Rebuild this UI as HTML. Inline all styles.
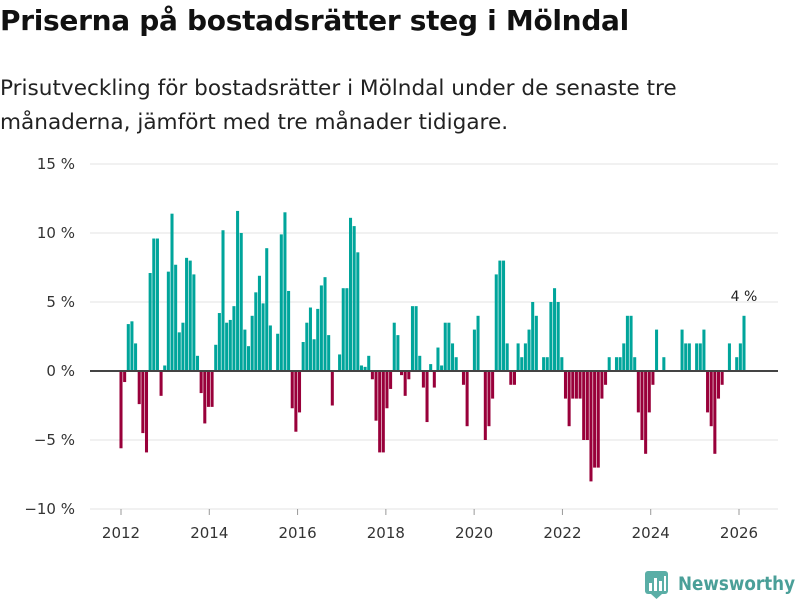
<!DOCTYPE html>
<html><head><meta charset="utf-8"><style>
body{margin:0;width:800px;height:600px;background:#fff;font-family:"Liberation Sans","DejaVu Sans",sans-serif;overflow:hidden;position:relative}
h1{position:absolute;left:0;top:4px;margin:0;font-size:28px;font-weight:bold;color:#111;font-family:"DejaVu Sans","Liberation Sans",sans-serif;letter-spacing:-0.3px}
p{position:absolute;left:0;top:72px;margin:0;font-size:21.6px;line-height:34px;color:#222;font-family:"DejaVu Sans","Liberation Sans",sans-serif;width:730px}
svg{position:absolute;left:0;top:0}
</style></head><body>
<h1>Priserna på bostadsrätter steg i Mölndal</h1>
<p>Prisutveckling för bostadsrätter i Mölndal under de senaste tre månaderna, jämfört med tre månader tidigare.</p>
<svg id="chart" width="800" height="600"></svg>
<script>
const startYear = 2012;
const values = [-5.6,-0.8,3.4,3.6,2.0,-2.4,-4.5,-5.9,7.1,9.6,9.6,-1.8,0.4,7.2,11.4,7.7,2.8,3.5,8.2,8.0,7.0,1.1,-1.6,-3.8,-2.6,-2.6,1.9,4.2,10.2,
3.5,3.7,4.7,11.6,10.0,3.0,1.8,4.0,5.7,6.9,4.9,8.9,3.3,0,2.7,9.9,11.5,5.8,-2.7,-4.4,-3.0,2.1,3.5,4.6,2.3,4.5,6.2,6.8,2.6,-2.5,
0,1.2,6.0,6.0,11.1,10.5,8.6,0.4,0.3,1.1,-0.6,-3.6,-5.9,-5.9,-2.7,-1.3,3.5,2.6,-0.3,-1.8,-0.6,4.7,4.7,1.1,-1.2,-3.7,0.5,-1.2,1.7,0.4,
3.5,3.5,2.0,1.0,0,-1.0,-4.0,0,3.0,4.0,0,-5.0,-4.0,-2.0,7.0,8.0,8.0,2.0,-1.0,-1.0,2.0,1.0,2.0,3.0,5.0,4.0,0,1.0,1.0,
5.0,6.0,5.0,1.0,-2.0,-4.0,-2.0,-2.0,-2.0,-5.0,-5.0,-8.0,-7.0,-7.0,-2.0,-1.0,1.0,0,1.0,1.0,2.0,4.0,4.0,1.0,-3.0,-5.0,-6.0,-3.0,-1.0,3.0,
0,1.0,0,0,0,0,3.0,2.0,2.0,0,2.0,2.0,3.0,-3.0,-4.0,-6.0,-2.0,-1.0,0,2.0,0,1.0,2.0,4.0];
const yTicks = [15,10,5,0,-5,-10];
const yTickLabels = ["15 %","10 %","5 %","0 %","−5 %","−10 %"];
const xTicks = [2012,2014,2016,2018,2020,2022,2024,2026];
const lastLabel = "4 %";

const NS="http://www.w3.org/2000/svg";
const svg=document.getElementById('chart');
const y=v=>371-v*13.8;
const xIdx=i=>121+i*((744-121)/(values.length-1));
const xYear=yr=>121+(yr-startYear)*(618/14);
function mk(tag,attrs){const e=document.createElementNS(NS,tag);for(const k in attrs)e.setAttribute(k,attrs[k]);svg.appendChild(e);return e;}
yTicks.forEach((t,k)=>{
  if(t!==0){const g=mk('line',{x1:90,x2:778,y1:y(t),y2:y(t),stroke:'#e3e3e3','stroke-width':1});
  
  }
  const tx=mk('text',{x:75,y:y(t)+5,'text-anchor':'end','font-size':15,fill:'#333','font-family':'DejaVu Sans, Liberation Sans, sans-serif'});
  tx.textContent=yTickLabels[k];
  
  
});
const bw=(744-121)/(values.length-1);
values.forEach((v,i)=>{
  if(v===0)return;
  const cx=xIdx(i);
  const r=mk('rect',{x:cx-bw/2+0.3,width:bw-0.6,y:Math.min(y(v),y(0)),height:Math.abs(y(v)-y(0)),fill:v>0?'#00a59b':'#99003a'});
  
  
});
const z=mk('line',{x1:90,x2:778,y1:y(0),y2:y(0),stroke:'#444','stroke-width':2});


xTicks.forEach(yr=>{
  const cx=xYear(yr);
  const tk=mk('line',{x1:cx,x2:cx,y1:509,y2:515,stroke:'#999','stroke-width':1});
  
  
  const t=mk('text',{x:cx,y:538,'text-anchor':'middle','font-size':15,fill:'#333','font-family':'DejaVu Sans, Liberation Sans, sans-serif'});
  t.textContent=yr;
  
  
});
const li=values.length-1;
const lt=mk('text',{x:xIdx(li),y:y(values[li])-15,'text-anchor':'middle','font-size':14,fill:'#222','font-family':'DejaVu Sans, Liberation Sans, sans-serif'});
lt.textContent=lastLabel;


</script>
<svg width="160" height="40" style="left:640px;top:564px">
<rect x="5" y="7" width="23" height="23" rx="3" fill="#5aaea6"/>
<polygon points="11,30 16.5,35 22,30" fill="#5aaea6"/>
<rect x="9" y="19" width="3" height="8" fill="#fff"/><rect x="14" y="14" width="3" height="13" fill="#fff"/><rect x="19" y="17" width="3" height="10" fill="#fff"/><rect x="24" y="12" width="2" height="15" fill="#fff"/>
<text x="38" y="26" font-size="18.5" font-weight="bold" fill="#4a9f98" font-family="DejaVu Sans, Liberation Sans, sans-serif" textLength="117" lengthAdjust="spacingAndGlyphs">Newsworthy</text>
</svg>
</body></html>
